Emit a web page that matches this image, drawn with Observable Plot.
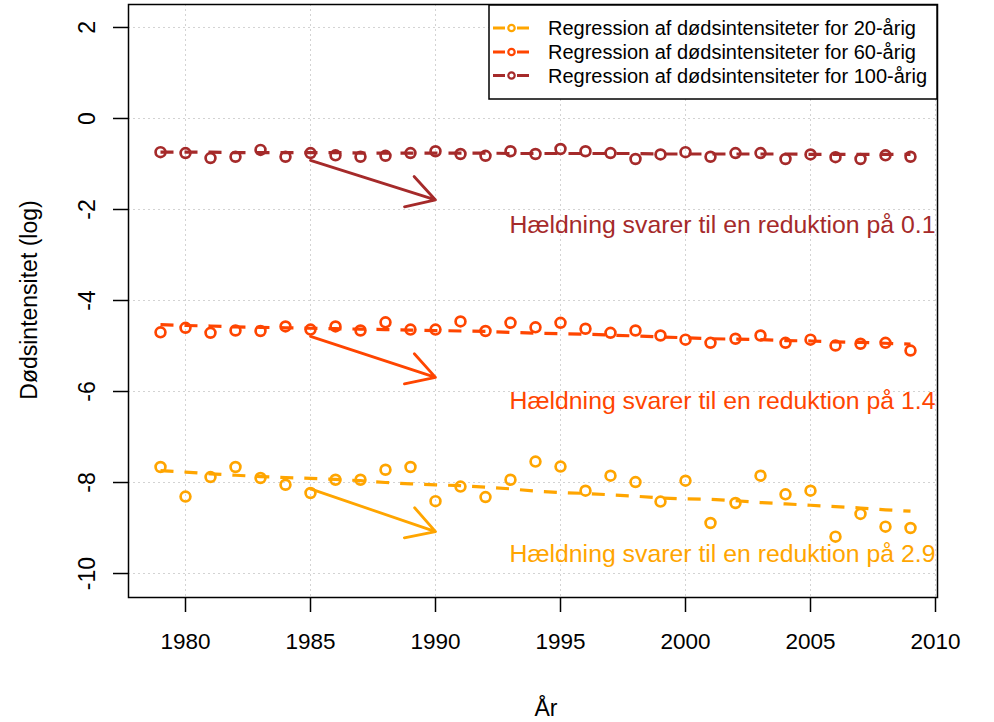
<!DOCTYPE html>
<html><head><meta charset="utf-8">
<script src="https://cdn.jsdelivr.net/npm/d3@7"></script>
<script src="https://cdn.jsdelivr.net/npm/@observablehq/plot@0.6"></script>
<style>body{margin:0;background:#fff} svg{display:block}</style>
</head><body><div id="chart"></div>
<script>
const years = [1979,1980,1981,1982,1983,1984,1985,1986,1987,1988,1989,1990,1991,1992,1993,1994,1995,1996,1997,1998,1999,2000,2001,2002,2003,2004,2005,2006,2007,2008,2009];
const obs20 = [-7.66,-8.31,-7.88,-7.66,-7.90,-8.05,-8.23,-7.94,-7.94,-7.72,-7.66,-8.41,-8.09,-8.32,-7.94,-7.54,-7.65,-8.18,-7.85,-7.99,-8.42,-7.96,-8.89,-8.45,-7.85,-8.26,-8.18,-9.19,-8.69,-8.97,-9.00];
const fit20 = [-7.74,-7.77,-7.81,-7.84,-7.87,-7.89,-7.91,-7.93,-7.96,-8.00,-8.03,-8.05,-8.07,-8.10,-8.14,-8.19,-8.22,-8.24,-8.27,-8.30,-8.34,-8.36,-8.37,-8.40,-8.44,-8.47,-8.50,-8.53,-8.56,-8.60,-8.63];
const obs60 = [-4.70,-4.60,-4.71,-4.66,-4.67,-4.57,-4.64,-4.57,-4.66,-4.48,-4.64,-4.64,-4.46,-4.67,-4.49,-4.59,-4.49,-4.62,-4.71,-4.66,-4.77,-4.86,-4.93,-4.84,-4.77,-4.93,-4.86,-4.99,-4.95,-4.93,-5.10];
const fit60 = [-4.53,-4.55,-4.56,-4.58,-4.59,-4.60,-4.61,-4.62,-4.63,-4.64,-4.65,-4.66,-4.67,-4.68,-4.70,-4.72,-4.73,-4.74,-4.76,-4.78,-4.80,-4.82,-4.84,-4.85,-4.86,-4.88,-4.89,-4.91,-4.92,-4.94,-4.96];
const obs100 = [-0.74,-0.76,-0.87,-0.84,-0.69,-0.84,-0.76,-0.81,-0.84,-0.82,-0.76,-0.72,-0.78,-0.82,-0.72,-0.78,-0.67,-0.72,-0.76,-0.89,-0.79,-0.74,-0.84,-0.76,-0.76,-0.89,-0.79,-0.85,-0.89,-0.81,-0.84];
const fit100 = [-0.74,-0.74,-0.74,-0.75,-0.75,-0.75,-0.75,-0.75,-0.76,-0.76,-0.76,-0.76,-0.76,-0.76,-0.77,-0.77,-0.77,-0.77,-0.77,-0.77,-0.78,-0.78,-0.78,-0.78,-0.78,-0.78,-0.79,-0.79,-0.79,-0.79,-0.79];

const seriesColors = ["orange", "orangered", "brown"];
const legendLabels = ["Regression af dødsintensiteter for 20-årig","Regression af dødsintensiteter for 60-årig","Regression af dødsintensiteter for 100-årig"];
const arrowX1 = 1985, arrowX2 = 1990;
const arrowY1 = [-8.14, -4.79, -0.92];
const arrowY2 = [-9.08, -5.69, -1.79];
const noteText = ["Hældning svarer til en reduktion på 2.9","Hældning svarer til en reduktion på 1.4","Hældning svarer til en reduktion på 0.1"];
const noteX = 2010;
const noteY = [-9.58, -6.22, -2.35];
const xTicks = [1980,1985,1990,1995,2000,2005,2010];
const yTicks = [-10,-8,-6,-4,-2,0,2];
const xLabel = "År";
const yLabel = "Dødsintensitet (log)";

const obsAll = [obs20, obs60, obs100];
const fitAll = [fit20, fit60, fit100];
const FONT = "'Liberation Sans', Arial, Helvetica, sans-serif";

const marks = [
  Plot.gridX(xTicks, {stroke: "#d3d3d3", strokeOpacity: 1, strokeDasharray: "2,3"}),
  Plot.gridY(yTicks, {stroke: "#d3d3d3", strokeOpacity: 1, strokeDasharray: "2,3"}),
];
for (let s = 0; s < 3; s++) {
  const rows = years.map((yr, i) => ({year: yr, obs: obsAll[s][i], fit: fitAll[s][i]}));
  marks.push(Plot.dot(rows, {x: "year", y: "obs", r: 4.9, stroke: seriesColors[s], strokeWidth: 2.7, fill: "none"}));
  marks.push(Plot.line(rows, {x: "year", y: "fit", stroke: seriesColors[s], strokeWidth: 3.2, strokeDasharray: "13,11", strokeLinecap: "butt"}));
  marks.push(Plot.arrow([{x1: arrowX1, x2: arrowX2, y1: arrowY1[s], y2: arrowY2[s]}], {x1: "x1", y1: "y1", x2: "x2", y2: "y2", stroke: seriesColors[s], strokeWidth: 2.8, headLength: 17, headAngle: 60, bend: 0}));
  marks.push(Plot.text([{x: noteX, y: noteY[s], t: noteText[s]}], {x: "x", y: "y", text: "t", fill: seriesColors[s], fontSize: 24.8, textAnchor: "end"}));
}
marks.push(Plot.frame({stroke: "black", strokeWidth: 1.5}));
marks.push(Plot.axisX(xTicks, {tickSize: 15, tickPadding: 21, fontSize: 22.5, tickFormat: d => String(d), label: null, strokeWidth: 1.5}));
marks.push(Plot.axisY(yTicks, {tickSize: 15, tickPadding: 19, tickRotate: -90, fontSize: 23, tickFormat: d => String(d), label: null, strokeWidth: 1.5}));

const chart = Plot.plot({
  width: 994, height: 722,
  marginLeft: 128, marginRight: 57, marginTop: 4, marginBottom: 125,
  style: {fontFamily: FONT, color: "black", background: "white"},
  x: {domain: [1977.72, 2010.08]},
  y: {domain: [-10.527, 2.505]},
  marks
});
document.getElementById("chart").appendChild(chart);

// Legend and axis titles
const svg = d3.select(chart);
svg.append("text").attr("x", 546).attr("y", 716).attr("text-anchor", "middle")
  .attr("font-size", 23).attr("font-family", FONT).attr("fill", "black").text(xLabel);
svg.append("text").attr("transform", "translate(37,300) rotate(-90)").attr("text-anchor", "middle")
  .attr("font-size", 23).attr("font-family", FONT).attr("fill", "black").text(yLabel);

const lg = svg.append("g");
lg.append("rect").attr("x", 489).attr("y", 5).attr("width", 448).attr("height", 94)
  .attr("fill", "white").attr("stroke", "black").attr("stroke-width", 1.5);
const rowY = [28, 52, 75.5];
for (let s = 0; s < 3; s++) {
  lg.append("line").attr("x1", 493).attr("x2", 530).attr("y1", rowY[s]).attr("y2", rowY[s])
    .attr("stroke", seriesColors[s]).attr("stroke-width", 3).attr("stroke-dasharray", "12,12");
  lg.append("circle").attr("cx", 511.5).attr("cy", rowY[s]).attr("r", 3.2)
    .attr("fill", "none").attr("stroke", seriesColors[s]).attr("stroke-width", 2.2);
  lg.append("text").attr("x", 548).attr("y", rowY[s]).attr("dy", "0.36em").attr("text-anchor", "start")
    .attr("font-size", 20).attr("font-family", FONT).attr("fill", "black").text(legendLabels[s]);
}
</script></body></html>
